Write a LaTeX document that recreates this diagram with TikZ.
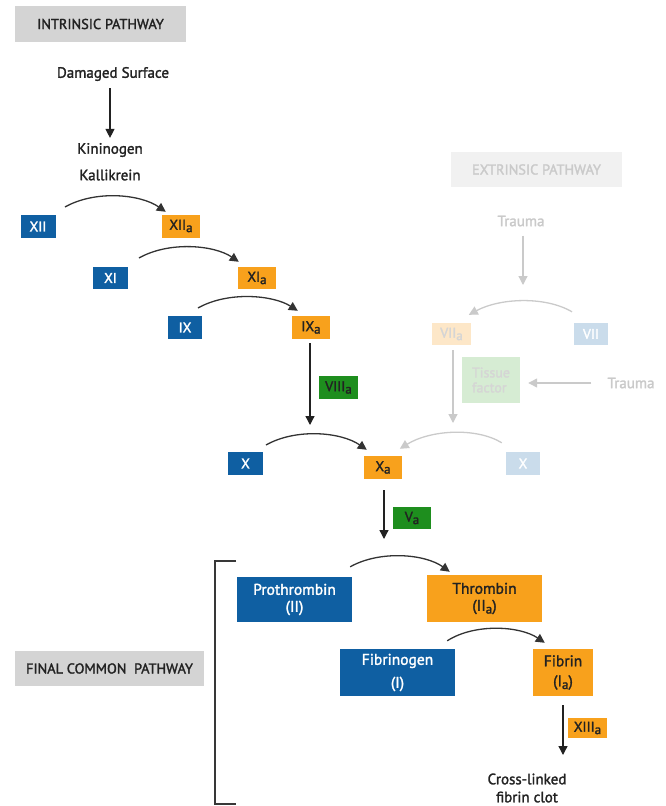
\documentclass[tikz,border=0pt]{standalone}
\usepackage{fontspec}
\setmainfont{PT Sans}[RawFeature={embolden=1.8}]
\usetikzlibrary{arrows.meta}
\definecolor{fblue}{HTML}{0F5FA2}
\definecolor{forange}{HTML}{F8A11C}
\definecolor{fgreen}{HTML}{1E8E1E}
\definecolor{lorange}{HTML}{FDE7C8}
\definecolor{lblue}{HTML}{CADCEB}
\definecolor{lgreen}{HTML}{D6ECD3}
\definecolor{hgray}{HTML}{D4D4D4}
\definecolor{hlight}{HTML}{F1F1F1}
\definecolor{ghost}{HTML}{CACACA}
\definecolor{ink}{HTML}{222222}
\definecolor{arcink}{HTML}{333333}
\newcommand{\sa}[1]{\raisebox{-0.35ex}{\fontsize{13}{12}\selectfont #1}}
\begin{document}
\begin{tikzpicture}[x=1pt,y=-1pt,
  every node/.style={font=\fontsize{14}{15}\selectfont},
  fbox/.style={inner sep=0pt, align=center},
  bluebox/.style={fbox, fill=fblue, text=white},
  orangebox/.style={fbox, fill=forange, text=ink},
  greenbox/.style={fbox, fill=fgreen, text=ink},
  lobox/.style={fbox, fill=lorange, text=ghost!80!white},
  lbbox/.style={fbox, fill=lblue, text=white},
  lgbox/.style={fbox, fill=lgreen, text=ghost!80!white},
  header/.style={fbox, fill=hgray, text=ink, font=\fontsize{14.3}{16}\selectfont},
  lheader/.style={fbox, fill=hlight, text=ghost, font=\fontsize{14.3}{16}\selectfont},
  label/.style={inner sep=0pt, text=ink, font=\fontsize{15}{17}\selectfont},
  glabel/.style={inner sep=0pt, text=ghost, font=\fontsize{15}{17}\selectfont},
  arr/.style={draw=ink, line width=1.3pt, -{Triangle[length=9pt,width=9pt]}},
  arc/.style={draw=arcink, line width=1.3pt, -{Triangle[length=9pt,width=9pt]}},
  garr/.style={draw=ghost, line width=1.3pt, -{Triangle[length=9pt,width=9pt]}},
  wh/.style 2 args={minimum width=#1, minimum height=#2}
]
\useasboundingbox (0,0) rectangle (665,806);

% headers
\node[header, wh={171pt}{36pt}] (intr) at (100.5,24) {INTRINSIC PATHWAY};
\node[lheader, wh={171pt}{35pt}] (extr) at (536.5,169.5) {EXTRINSIC PATHWAY};
\node[header, wh={189pt}{35pt}] (final) at (109.5,668.5) {FINAL COMMON\ \ PATHWAY};

% intrinsic texts
\node[label] (dmg) at (113,74) {Damaged Surface};
\node[label] (kin) at (110,150) {Kininogen};
\node[label] (kal) at (110,175) {Kallikrein};
\draw[arr] ([xshift=-3pt,yshift=-7pt]dmg.south) -- ([yshift=5pt]kin.north);

% intrinsic boxes
\node[bluebox, wh={35pt}{23pt}] (XII) at (38,226.5) {XII};
\node[orangebox, wh={38pt}{23pt}] (XIIa) at (181,226) {XII\sa{a}};
\node[bluebox, wh={35pt}{22pt}] (XI) at (110.5,278) {XI};
\node[orangebox, wh={38pt}{22pt}] (XIa) at (257,278) {XI\sa{a}};
\node[bluebox, wh={34pt}{23pt}] (IX) at (185,327.5) {IX};
\node[orangebox, wh={38pt}{23pt}] (IXa) at (311,327.5) {IX\sa{a}};
\node[greenbox, wh={39pt}{23pt}] (VIIIa) at (338.5,387.5) {VIII\sa{a}};
\node[bluebox, wh={35pt}{23pt}] (X) at (245.5,463.5) {X};
\node[orangebox, wh={38pt}{23pt}] (Xa) at (383,467.5) {X\sa{a}};
\node[greenbox, wh={38pt}{22pt}] (Va) at (412,518) {V\sa{a}};

\coordinate (sXII) at (65,207);
\coordinate (sXI) at (139,258);
\coordinate (sIX) at (198,308);
\coordinate (sX) at (266,445);
\draw[arc] (sXII) .. controls (95,190) and (140,194) .. ([xshift=4pt,yshift=2.5pt]XIIa.north west);
\draw[arc] (sXI) .. controls (169,241) and (214,245) .. ([xshift=1pt,yshift=5pt]XIa.north west);
\draw[arc] (sIX) .. controls (228,291) and (273,295) .. ([xshift=6pt,yshift=5pt]IXa.north west);
\draw[arc] (sX) .. controls (296,428) and (341,432) .. ([xshift=3pt,yshift=6pt]Xa.north west);

\coordinate (toX) at (310,425);
\draw[arr] ([xshift=-1pt,yshift=-4pt]IXa.south) -- (toX);
\coordinate (toP) at (384,539);
\draw[arr] ([xshift=1pt,yshift=-11pt]Xa.south) -- (toP);

% extrinsic (faded)
\node[glabel] (tr1) at (521,221) {Trauma};
\node[glabel] (tr2) at (631,383) {Trauma};
\node[lobox, wh={39pt}{22pt}] (VIIa) at (451.5,334) {VII\sa{a}};
\node[lbbox, wh={34pt}{22pt}] (VII) at (591,334) {VII};
\node[lgbox, wh={58pt}{46pt}, align=left] (tf) at (491,380) {Tissue\\factor};
\node[lbbox, wh={34pt}{23pt}] (Xl) at (523,463.5) {X};

\coordinate (toVII) at (523,285);
\draw[garr] ([xshift=2pt,yshift=-9pt]tr1.south) -- (toVII);
\draw[garr] ([xshift=-16pt]tr2.west) -- ([xshift=8pt,yshift=-3pt]tf.east);
\draw[garr] ([xshift=-19pt,yshift=11pt]VII.north) .. controls (545,296) and (500,298) .. ([xshift=37pt,yshift=8pt]VIIa.north west);
\coordinate (toXl) at (453,423);
\draw[garr] ([xshift=1.5pt,yshift=-5pt]VIIa.south) -- (toXl);
\draw[garr] ([xshift=-4pt,yshift=9pt]Xl.north west) .. controls (476,427) and (430,430) .. ([xshift=36pt,yshift=7pt]Xa.north west);

% final common pathway
\draw[draw=ink!90, line width=1.6pt] (236,561) -- (215,561) -- (215,804) -- (236,804);
\node[bluebox, wh={115pt}{45pt}, font=\fontsize{15.5}{17}\selectfont] (pro) at (294.5,599.5) {Prothrombin\\(II)};
\node[orangebox, wh={115pt}{47pt}, font=\fontsize{15.5}{17}\selectfont] (thr) at (484.5,598.5) {Thrombin\\(II\sa{a})};
\node[bluebox, wh={115pt}{47pt}, font=\fontsize{15.5}{23}\selectfont] (fbg) at (397.5,672.5) {Fibrinogen\\(I)};
\node[orangebox, wh={60pt}{47pt}, font=\fontsize{15.5}{20}\selectfont] (fib) at (563,672.5) {Fibrin\\(I\sa{a})};
\node[orangebox, wh={39pt}{20pt}] (XIIIa) at (587.5,728) {XIII\sa{a}};
\node[label, align=center, font=\fontsize{15}{18}\selectfont] (clot) at (527,788) {Cross-linked\\fibrin clot};

\draw[arc] ([xshift=-2pt,yshift=10pt]pro.north east) .. controls (380,550) and (425,554) .. ([xshift=23pt,yshift=3pt]thr.north west);
\draw[arc] ([xshift=-8pt,yshift=8pt]fbg.north east) .. controls (475,623) and (520,626) .. ([xshift=12pt,yshift=6pt]fib.north west);
\coordinate (toClot) at (563,755);
\draw[arr] ([yshift=-9pt]fib.south) -- (toClot);
\end{tikzpicture}
\end{document}
